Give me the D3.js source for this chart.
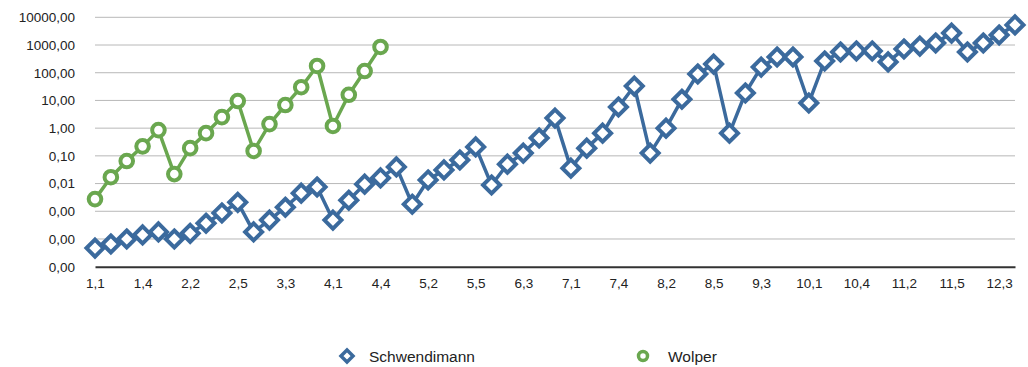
<!DOCTYPE html>
<html><head><meta charset="utf-8">
<script src="https://cdn.jsdelivr.net/npm/d3@7"></script>
<style>body{margin:0;background:#fff;} text{font-family:"Liberation Sans",Arial,sans-serif;}</style>
</head><body><svg id="c" width="1028" height="367"></svg>
<script>
const groups = 12, perGroup = 5;
const categories = [];
for (let n = 1; n <= groups; n++) for (let k = 1; k <= perGroup; k++) categories.push(n + "," + k);
categories.length = 59;

const schwendimann = [4.7e-5,6.6e-5,1.0e-4,1.4e-4,1.8e-4,1.0e-4,1.6e-4,3.7e-4,8.7e-4,2.1e-3,
  1.8e-4,4.8e-4,1.4e-3,4.5e-3,7.5e-3,4.8e-4,2.5e-3,9.5e-3,1.6e-2,4.0e-2,
  1.8e-3,1.35e-2,3.1e-2,7.1e-2,0.21,8.9e-3,5.0e-2,0.126,0.44,2.3,
  3.6e-2,0.19,0.66,5.8,33,0.126,1.0,11,90,205,
  0.66,18.5,160,370,370,8.1,265,560,610,610,
  245,720,915,1180,2700,560,1180,2300,5300];
const wolper = [2.75e-3,0.017,0.065,0.22,0.85,0.022,0.19,0.66,2.5,9.5,
  0.15,1.4,6.8,30,175,1.2,16,115,850];
const yTicks = [1e-5,1e-4,1e-3,1e-2,1e-1,1,10,100,1000,10000];
const xTickLabels = categories.filter((d,i) => i % 3 === 0);

const blue = "#3b6a9d", green = "#6aa74f";
const svg = d3.select("#c");
const m = {left: 95, right: 1015, top: 17.3, bottom: 266.7};

const x = d3.scalePoint().domain(categories).range([m.left, m.right]);
const y = d3.scaleLog().domain([1e-5, 1e4]).range([m.bottom, m.top]);

// gridlines
svg.append("g").selectAll("line").data(yTicks.slice(1)).join("line")
  .attr("x1", m.left).attr("x2", m.right)
  .attr("y1", d => y(d)).attr("y2", d => y(d))
  .attr("stroke", "#b8b8b8").attr("stroke-width", 1);

// y axis labels
const fmt = d => d3.format(".2f")(d < 0.005 ? 0 : d).replace(".", ",");
const yAxis = d3.axisLeft(y).tickValues(yTicks).tickFormat(fmt).tickSize(0).tickPadding(0);
const gy = svg.append("g").attr("transform", `translate(${m.left - 20},0)`).call(yAxis);
gy.select(".domain").remove();
gy.selectAll("text").attr("font-size", 13.5).attr("fill", "#222").attr("font-family", '"Liberation Sans",Arial,sans-serif');

// x axis
const xAxis = d3.axisBottom(x).tickValues(xTickLabels).tickSize(0).tickPadding(12);
const gx = svg.append("g").attr("transform", `translate(0,${m.bottom})`).call(xAxis);
gx.select(".domain").attr("stroke", "#333").attr("stroke-width", 2);
gx.selectAll("text").attr("font-size", 13.5).attr("fill", "#222").attr("font-family", '"Liberation Sans",Arial,sans-serif');

const line = d3.line().x((d,i) => x(categories[i])).y(d => y(d));

function diamond(sel, s) {
  sel.attr("d", `M0,${-s}L${s},0L0,${s}L${-s},0Z`);
}

// Schwendimann
svg.append("path").datum(schwendimann).attr("d", line)
  .attr("fill", "none").attr("stroke", blue).attr("stroke-width", 3.5).attr("stroke-linejoin", "round");
svg.append("g").selectAll("path").data(schwendimann).join("path")
  .attr("transform", (d,i) => `translate(${x(categories[i])},${y(d)})`)
  .call(diamond, 8.5)
  .attr("fill", "#fff").attr("stroke", blue).attr("stroke-width", 4);

// Wolper
svg.append("path").datum(wolper).attr("d", line)
  .attr("fill", "none").attr("stroke", green).attr("stroke-width", 3.5).attr("stroke-linejoin", "round");
svg.append("g").selectAll("circle").data(wolper).join("circle")
  .attr("cx", (d,i) => x(categories[i])).attr("cy", d => y(d)).attr("r", 6.3)
  .attr("fill", "#fff").attr("stroke", green).attr("stroke-width", 4);

// legend
const lg = svg.append("g");
lg.append("path").attr("transform", "translate(347,356)").call(diamond, 6)
  .attr("fill", "#fff").attr("stroke", blue).attr("stroke-width", 3.5);
lg.append("text").attr("x", 369).attr("y", 361.5).attr("font-size", 15.5).attr("fill", "#222").text("Schwendimann");
lg.append("circle").attr("cx", 643).attr("cy", 356).attr("r", 4.5)
  .attr("fill", "#fff").attr("stroke", green).attr("stroke-width", 3.5);
lg.append("text").attr("x", 668).attr("y", 361.5).attr("font-size", 15.5).attr("fill", "#222").text("Wolper");
</script></body></html>
